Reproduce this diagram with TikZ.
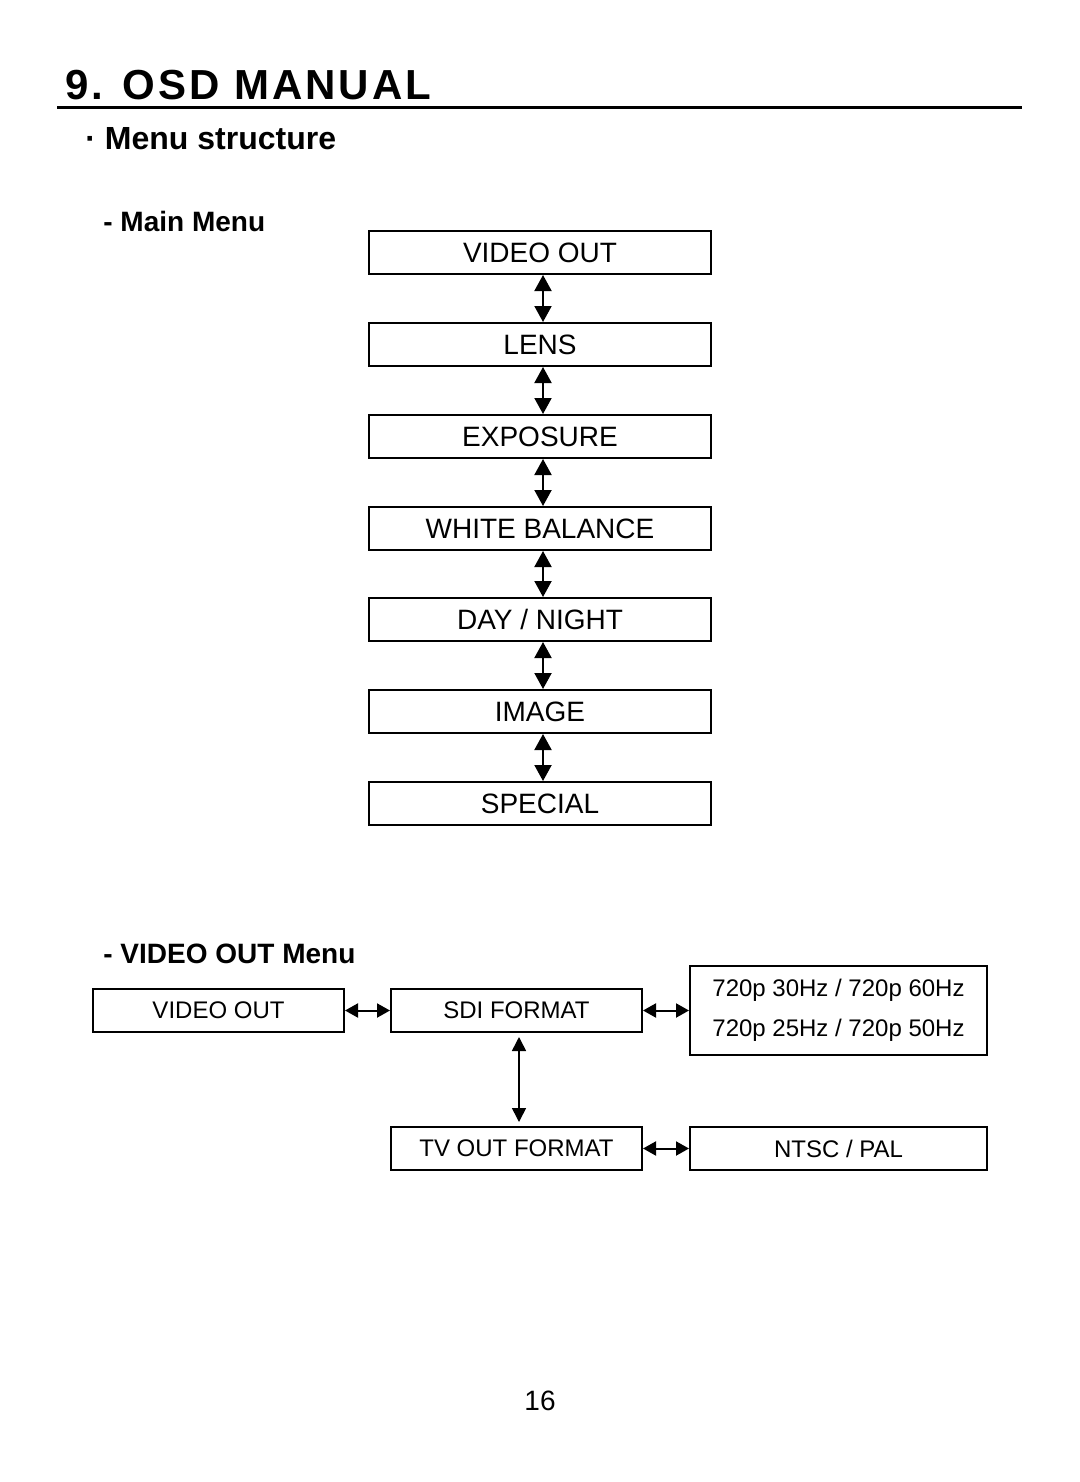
\documentclass[tikz,border=0pt]{standalone}
\usepackage{fontspec}
\setmainfont{Liberation Sans}
\usetikzlibrary{arrows.meta}
\newfontfamily\titlefont[LetterSpace=7]{Liberation Sans}
\begin{document}
\begin{tikzpicture}[x=0.5pt,y=-0.5pt,
  mainbox/.style={draw,line width=1pt,minimum width=171pt,minimum height=21.5pt,inner sep=0pt,font=\fontsize{14}{16}\selectfont},
  smallbox/.style={draw,line width=1pt,minimum width=125.5pt,minimum height=21.5pt,inner sep=0pt,font=\fontsize{12}{14}\selectfont},
  widebox/.style={draw,line width=1pt,minimum width=148.5pt,minimum height=21.5pt,inner sep=0pt,font=\fontsize{12}{14}\selectfont},
  bigarrow/.style={line width=1pt,{Triangle[length=8pt,width=8.5pt]}-{Triangle[length=8pt,width=8.5pt]}},
  smallarrow/.style={line width=1pt,{Triangle[length=6.5pt,width=7pt]}-{Triangle[length=6.5pt,width=7pt]}},
  varrow/.style={line width=0.8pt,{Triangle[length=7pt,width=7pt]}-{Triangle[length=7pt,width=7pt]},shorten <=2pt,shorten >=2pt},
  heading/.style={anchor=base west,inner sep=0pt,font=\fontsize{14}{16}\selectfont\bfseries}
]
\useasboundingbox (0,0) rectangle (1080,1482);
\fill[white] (0,0) rectangle (1080,1482);

% title
\node[anchor=base west,inner sep=0pt,font=\fontsize{21}{24}\selectfont\bfseries\titlefont] (title) at (65,100) {9. OSD MANUAL};
\coordinate (ruleL) at (57,108);
\coordinate (ruleR) at (1022,108);
\draw[line width=1.5pt] (ruleL) -- (ruleR);
\node[anchor=base west,inner sep=0pt,font=\fontsize{16}{18}\selectfont\bfseries] (menustruct) at (85,150) {· Menu structure};
\node[heading] (mainmenu) at (103,232) {- Main Menu};
\node[heading] (vomenu) at (103,963) {- VIDEO OUT Menu};

% main menu
\node[mainbox] (m1) at (540,252.5) {VIDEO OUT};
\node[mainbox] (m2) at (540,344.5) {LENS};
\node[mainbox] (m3) at (540,436.5) {EXPOSURE};
\node[mainbox] (m4) at (540,528.5) {WHITE BALANCE};
\node[mainbox] (m5) at (540,619.5) {DAY / NIGHT};
\node[mainbox] (m6) at (540,711.5) {IMAGE};
\node[mainbox] (m7) at (540,803.5) {SPECIAL};
\foreach \a/\b in {m1/m2,m2/m3,m3/m4,m4/m5,m5/m6,m6/m7}
  \draw[bigarrow] ([xshift=1.5pt]\a.south) -- ([xshift=1.5pt]\b.north);

% video out menu
\node[smallbox] (vo) at (218.5,1010.5) {VIDEO OUT};
\node[smallbox] (sdi) at (516.5,1010.5) {SDI FORMAT};
\node[widebox,minimum height=44.5pt,align=center,font=\fontsize{12}{20}\selectfont] (freq) at (838.5,1010.5) {720p 30Hz / 720p 60Hz\\720p 25Hz / 720p 50Hz};
\node[smallbox] (tv) at (516.5,1148.5) {TV OUT FORMAT};
\node[widebox] (ntsc) at (838.5,1148.5) {NTSC / PAL};
\draw[smallarrow] (vo.east) -- (sdi.west);
\draw[smallarrow] (sdi.east) -- (sdi.east -| freq.west);
\draw[smallarrow] (tv.east) -- (ntsc.west);
\draw[varrow] ([xshift=1.25pt]sdi.south) -- ([xshift=1.25pt]tv.north);

% page number
\node[anchor=base,inner sep=0pt,font=\fontsize{14}{16}\selectfont] (page) at (540,1410) {16};
\end{tikzpicture}
\end{document}
